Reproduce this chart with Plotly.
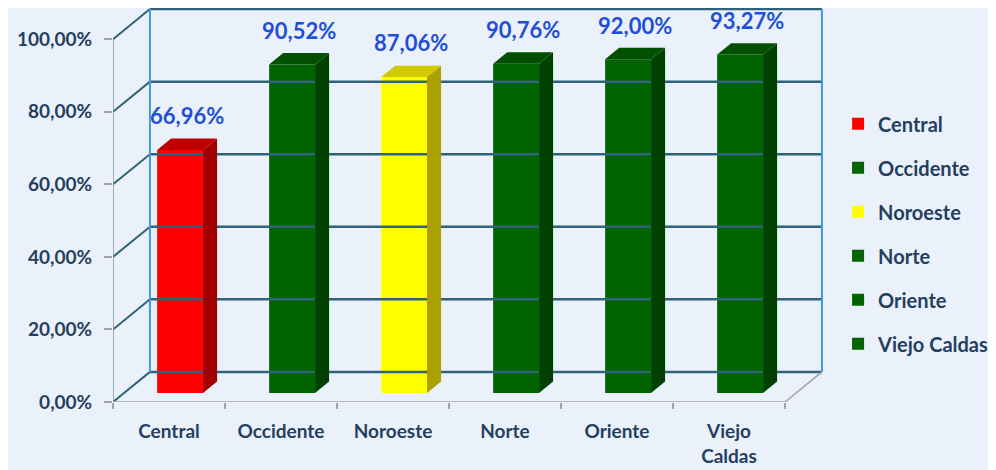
import plotly.graph_objects as go

categories = ["Central", "Occidente", "Noroeste", "Norte", "Oriente", "Viejo Caldas"]
tick_labels = ["Central", "Occidente", "Noroeste", "Norte", "Oriente", "Viejo<br>Caldas"]
values = [66.96, 90.52, 87.06, 90.76, 92.00, 93.27]
value_labels = ["66,96%", "90,52%", "87,06%", "90,76%", "92,00%", "93,27%"]
y_ticks = [0, 20, 40, 60, 80, 100]
y_tick_labels = ["0,00%", "20,00%", "40,00%", "60,00%", "80,00%", "100,00%"]

front_colors = ["#ff0000", "#006400", "#ffff00", "#006400", "#006400", "#006400"]
top_colors = ["#c00000", "#005000", "#d0c800", "#005000", "#005000", "#005000"]
side_colors = ["#a00000", "#004000", "#aaa000", "#004000", "#004000", "#004000"]

# oblique projection of the depth axis onto the front plane
DX, DY = 0.33, 8.3          # full depth, in (category, %) units
BAR_D0, BAR_D1 = 0.30, 0.68  # bar depth span as fraction of wall depth
BAR_W = 0.41

NAVY = "#243f60"
GRID = "#2f6378"
EDGE = "#3d9be0"
FLOOR = "#a0a4a8"
FONT = "Lato, 'Open Sans', sans-serif"

fig = go.Figure()


def line(xs, ys, color, width=2):
    fig.add_trace(go.Scatter(x=xs, y=ys, mode="lines", line=dict(color=color, width=width),
                             showlegend=False, hoverinfo="skip", cliponaxis=False))


n = len(categories)
# back wall + left wall grid
for v in y_ticks:
    line([DX, n + DX], [v + DY, v + DY], GRID, 2.5)
    line([0, DX], [v, v + DY], GRID, 2)
line([DX, DX], [DY, 100 + DY], EDGE, 2)
line([n + DX, n + DX], [DY, 100 + DY], EDGE, 2)
line([0, 0], [0, 100], "#7f96a4", 1.5)
# floor front edges
line([0, n], [0, 0], FLOOR, 1.5)
line([n, n + DX], [0, DY], FLOOR, 1.5)

# bars
x0s, bases = [], []
for i, (cat, v) in enumerate(zip(categories, values)):
    xc = i + 0.5 + BAR_D0 * DX
    base = BAR_D0 * DY
    xl, xr = xc - BAR_W / 2, xc + BAR_W / 2
    ddx, ddy = (BAR_D1 - BAR_D0) * DX, (BAR_D1 - BAR_D0) * DY
    top = base + v
    # side face
    fig.add_trace(go.Scatter(x=[xr, xr + ddx, xr + ddx, xr, xr], y=[base, base + ddy, top + ddy, top, base],
                             fill="toself", fillcolor=side_colors[i], mode="lines",
                             line=dict(width=0), showlegend=False, hoverinfo="skip"))
    # top face
    fig.add_trace(go.Scatter(x=[xl, xl + ddx, xr + ddx, xr, xl], y=[top, top + ddy, top + ddy, top, top],
                             fill="toself", fillcolor=top_colors[i], mode="lines",
                             line=dict(width=0), showlegend=False, hoverinfo="skip"))
    # front face
    fig.add_trace(go.Bar(x=[xc], y=[v], base=[base], width=BAR_W, name=cat,
                         marker=dict(color=front_colors[i], line=dict(width=0)),
                         legendgroup=cat))
    x0s.append(xc + ddx / 2)
    bases.append(top + 8.6)

fig.add_trace(go.Scatter(x=x0s, y=bases, mode="text", text=value_labels, cliponaxis=False,
                         textfont=dict(family=FONT, size=22, color="#1f4fd8", weight="bold"),
                         showlegend=False, hoverinfo="skip"))

fig.update_layout(
    width=988, height=462,
    margin=dict(l=105, r=155, t=0, b=68, autoexpand=False),
    paper_bgcolor="#ebf1fa",
    plot_bgcolor="rgba(0,0,0,0)",
    font=dict(family=FONT, size=19, color=NAVY),
    barmode="overlay",
    showlegend=True,
    legend=dict(x=0.996, y=0.427, yanchor="middle", xanchor="left",
                bgcolor="rgba(0,0,0,0)",
                tracegroupgap=15, traceorder="grouped",
                font=dict(family=FONT, size=20, color=NAVY, weight="bold")),
    xaxis=dict(range=[0, 6.5], showgrid=False, zeroline=False, showline=False,
               tickvals=[i + 0.5 for i in range(n)], ticktext=tick_labels, ticks="",
               ticklabelstandoff=16,
               tickfont=dict(family=FONT, size=19, color=NAVY, weight="bold"),
               minor=dict(tickvals=list(range(n + 1)), ticks="outside", ticklen=6,
                          tickcolor=FLOOR, tickwidth=1.5)),
    yaxis=dict(range=[0, 108.6], showgrid=False, zeroline=False, showline=False,
               tickvals=y_ticks, ticktext=y_tick_labels, ticks="outside", ticklen=8,
               tickcolor=FLOOR, tickwidth=1.5, ticklabelstandoff=8,
               tickfont=dict(family=FONT, size=19, color=NAVY, weight="bold")),
)

fig.write_html("out.html")
